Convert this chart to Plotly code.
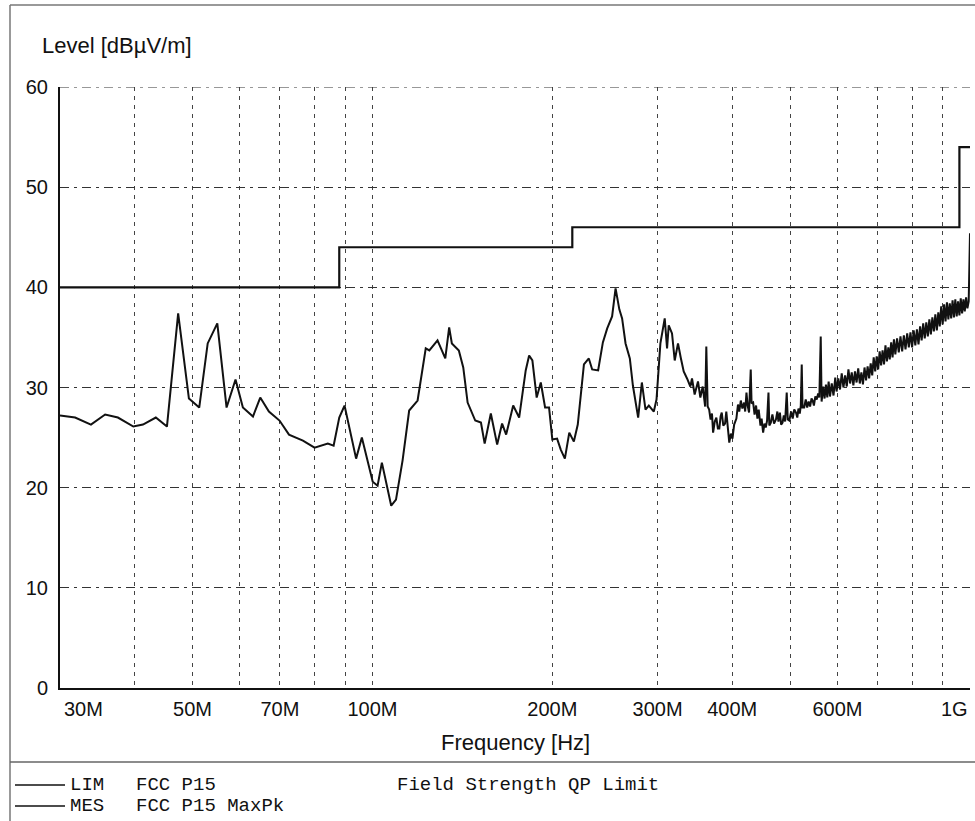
import plotly.graph_objects as go

# Max-peak scan, frequency in MHz and level in dBµV/m
mes_freq_mhz = [
    30.0, 31.8, 33.8, 35.7, 37.5, 39.8, 41.3, 43.4, 45.3, 47.3,
    49.3, 51.3, 53.0, 55.0, 57.0, 59.0, 60.7, 63.1, 64.9, 67.1,
    69.9, 72.5, 76.5, 80.0, 84.2, 86.1, 88.0, 89.8, 93.9, 96.0,
    100.1, 102.0, 103.7, 107.5, 109.5, 112.3, 115.2, 119.0, 122.8, 124.5,
    128.5, 132.4, 134.4, 135.8, 139.5, 141.9, 144.3, 148.6, 151.9, 154.1,
    157.8, 161.7, 164.8, 167.4, 172.0, 176.0, 180.5, 182.9, 185.2, 188.3,
    191.3, 194.5, 197.5, 200.0, 203.7, 206.6, 209.9, 213.5, 217.3, 220.6,
    225.9, 230.2, 233.2, 238.6, 243.0, 247.1, 251.8, 255.2, 258.9, 261.7,
    265.2, 269.6, 272.8, 278.4, 282.4, 286.4, 290.1, 295.7, 298.8, 303.3,
    308.4, 311.2, 313.2, 317.2, 320.5, 324.6, 328.0, 331.8, 336.1, 340.4,
    342.6, 346.1, 350.6, 353.8, 357.0, 360.4, 362.0, 363.9,
    366, 368, 370, 371.6, 374, 376.3, 378.5, 380.6, 382.5, 384.2,
    386.5, 389.1, 391, 393, 395.5, 398, 400.4, 403, 406.5, 409,
    411, 413.5, 416, 418.8, 420.5, 422.6, 424.5, 426.8, 429.6, 431,
    433.6, 436, 438.5, 440.8, 443, 446, 448, 450.6, 453, 455.2,
    457.5, 460, 461.5, 464.2, 467, 470, 473.4, 476, 478, 480.7,
    483, 485.6, 488, 490.5, 493.5, 495.5, 498.5, 502, 505, 508,
    511.4, 514, 516.3, 519, 521, 522.9, 524.5, 527.9, 531, 534,
    537, 540, 543, 545.4, 548, 551, 554, 557, 559.6, 562.6,
    564.5, 568, 571, 574, 577, 580, 583, 587, 591, 595,
    598, 602, 606, 610, 614, 618, 622, 626, 630, 634,
    638, 642, 646, 650, 654, 658, 662, 666, 670, 674,
    678, 682, 686, 690, 694, 698, 702, 706, 710, 714,
    718, 722, 726, 730, 734, 738, 742, 746, 750, 755,
    760, 765, 770, 775, 780, 785, 790, 795, 800, 805,
    810, 815, 820, 825, 830, 835, 840, 845, 850, 855,
    860, 865, 870, 875, 880, 885, 890, 895, 900, 905,
    910, 915, 920, 925, 930, 935, 940, 945, 950, 955,
    960, 965, 970, 975, 980, 985, 990, 995, 1000,
]
mes_level = [
    27.2, 27.0, 26.3, 27.3, 27.0, 26.1, 26.3, 27.0, 26.1, 37.4,
    28.9, 28.0, 34.4, 36.4, 28.0, 30.8, 28.0, 27.1, 29.0, 27.6,
    26.7, 25.3, 24.7, 24.0, 24.4, 24.2, 27.0, 28.2, 22.9, 25.0,
    20.6, 20.2, 22.5, 18.2, 18.8, 22.7, 27.7, 28.7, 33.9, 33.7,
    34.7, 32.9, 36.0, 34.4, 33.7, 32.0, 28.5, 26.7, 26.5, 24.4,
    27.4, 24.3, 26.4, 25.3, 28.2, 27.0, 31.7, 33.2, 32.7, 29.0,
    30.5, 28.0, 28.0, 24.8, 24.9, 23.8, 22.9, 25.5, 24.6, 26.3,
    32.3, 32.9, 31.8, 31.7, 34.5, 35.9, 37.1, 39.9, 37.8, 36.9,
    34.4, 32.9, 30.2, 27.0, 30.5, 27.8, 28.2, 27.6, 28.8, 34.4,
    36.9, 33.9, 36.2, 35.4, 32.7, 34.4, 33.0, 31.6, 30.9, 30.1,
    30.9, 29.3, 30.6, 29.0, 30.1, 28.1, 34.1, 28.1,
    27.8, 26.8, 27.4, 25.5, 26.6, 27.0, 25.9, 25.9, 27.1, 27.5,
    26.2, 26.4, 27.6, 26.0, 24.5, 25.4, 24.9, 26.3, 26.9, 28.3,
    27.6, 28.7, 27.9, 28.5, 27.6, 29.5, 28.2, 27.5, 31.8, 28.4,
    28.5, 27.3, 28.2, 26.9, 27.8, 26.2, 26.9, 25.5, 26.4, 26.0,
    26.7, 29.5, 26.2, 26.5, 27.3, 26.4, 26.8, 27.6, 26.6, 27.5,
    26.3, 26.5, 27.2, 26.6, 29.5, 26.8, 26.7, 27.6, 26.9, 27.8,
    27.5, 27.0, 27.9, 27.4, 28.2, 32.3, 28.0, 28.0, 28.8, 28.0,
    28.6, 28.1, 28.9, 28.7, 28.2, 29.1, 28.8, 29.4, 29.0, 35.1,
    28.6, 30.1, 28.9, 30.3, 29.0, 30.6, 29.1, 30.4, 29.2, 31.0,
    29.6, 30.9, 29.8, 31.4, 30.0, 31.2, 30.1, 31.8, 30.4, 31.5,
    30.2, 31.6, 30.5, 31.9, 30.4, 31.5, 30.3, 32.0, 30.7, 32.1,
    30.9, 32.4, 31.2, 33.0, 31.6, 33.1, 31.8, 33.6, 32.2, 33.7,
    32.3, 34.2, 32.6, 34.0, 32.8, 34.5, 33.0, 34.8, 33.3, 34.9,
    33.5, 35.1, 33.6, 35.2, 33.8, 35.4, 34.0, 35.5, 34.0, 35.7,
    34.2, 35.8, 34.3, 36.1, 34.7, 36.4, 34.9, 36.5, 35.1, 36.8,
    35.3, 37.0, 35.6, 37.3, 35.7, 37.5, 36.1, 38.1, 36.3, 38.3,
    36.6, 38.5, 36.8, 38.4, 36.9, 38.7, 37.0, 38.8, 37.1, 38.6,
    37.2, 38.9, 37.4, 38.8, 37.6, 39.0, 37.9, 38.6, 45.4,
]

# FCC Part 15 QP limit: band edges (MHz) and level for each band
lim_edges_mhz = [30, 88, 216, 960, 1000]
lim_level = [40, 44, 46, 54, 54]

y_ticks = [0, 10, 20, 30, 40, 50, 60]
x_grid_mhz = [30, 40, 50, 60, 70, 80, 90, 100, 200, 300, 400, 500,
              600, 700, 800, 900, 1000]
x_tick_labels = {50: "50M", 70: "70M", 100: "100M", 200: "200M",
                 300: "300M", 400: "400M", 600: "600M"}
x_edge_labels = [("30M", 0.0, "left", 2), ("1G", 1.0, "right", 0)]

legend_rows = [
    ("LIM", "FCC P15", "Field Strength QP Limit"),
    ("MES", "FCC P15 MaxPk", ""),
]

# page geometry (pixels)
FIG_W, FIG_H = 975, 821
M_L, M_R, M_T, M_B = 60, 5, 87, 133
PW = FIG_W - M_L - M_R
PH = FIG_H - M_T - M_B


def px(x):
    return (x - M_L) / PW


def py(y):
    return (FIG_H - M_B - y) / PH


SANS = "Liberation Sans, Arial, sans-serif"
MONO = "Courier New, Liberation Mono, monospace"
INK = "#111111"
H_DASH = "9px,5px,3px,5px"

fig = go.Figure()

fig.add_trace(go.Scatter(
    x=[f * 1e6 for f in lim_edges_mhz], y=lim_level,
    mode="lines", line=dict(color=INK, width=2.2, shape="hv"),
    name="LIM", hoverinfo="skip",
))
fig.add_trace(go.Scatter(
    x=[f * 1e6 for f in mes_freq_mhz], y=mes_level,
    mode="lines", line=dict(color=INK, width=2),
    name="MES",
))

fig.update_xaxes(
    type="log", range=[7.4771213, 9.0],
    tickvals=[f * 1e6 for f in x_grid_mhz],
    ticktext=[x_tick_labels.get(f, "") for f in x_grid_mhz],
    showgrid=True, gridcolor="#444444", gridwidth=1, griddash="4px,5px",
    showline=True, linecolor=INK, linewidth=2,
    ticks="", ticklabelstandoff=2,
    tickfont=dict(family=SANS, size=20, color=INK),
    zeroline=False,
)
fig.update_yaxes(
    range=[0, 60], tickvals=y_ticks,
    showgrid=True, gridcolor="#333333", gridwidth=1.2, griddash=H_DASH,
    showline=True, linecolor=INK, linewidth=2,
    ticks="", ticklabelstandoff=6,
    tickfont=dict(family=SANS, size=20, color=INK),
    zeroline=False,
)

annotations = [
    dict(text="Level [dBµV/m]", xref="paper", yref="paper",
         x=px(40), y=py(45), xanchor="left", yanchor="middle",
         showarrow=False, font=dict(family=SANS, size=22, color=INK)),
    dict(text="Frequency [Hz]", xref="paper", yref="paper",
         x=0.5, y=py(742), xanchor="center", yanchor="middle",
         showarrow=False, font=dict(family=SANS, size=22, color=INK)),
]
for label, xp, anchor, shift in x_edge_labels:
    annotations.append(dict(
        text=label, xref="paper", yref="paper", x=xp,
        y=py(709), xanchor=anchor, yanchor="middle", showarrow=False,
        xshift=shift, font=dict(family=SANS, size=20, color=INK),
    ))

shapes = [
    # dashed grid line along the top of the plot (60 dB)
    dict(type="line", xref="paper", yref="y", x0=0, x1=1,
         y0=y_ticks[-1], y1=y_ticks[-1],
         line=dict(color="#333333", width=1.2, dash=H_DASH)),
    # page frame and legend separator
    dict(type="line", xref="paper", yref="paper", x0=px(10), x1=px(975),
         y0=py(5), y1=py(5), line=dict(color="#777777", width=1.5)),
    dict(type="line", xref="paper", yref="paper", x0=px(10), x1=px(10),
         y0=py(5), y1=py(821), line=dict(color="#777777", width=1.5)),
    dict(type="line", xref="paper", yref="paper", x0=px(10), x1=px(975),
         y0=py(762), y1=py(762), line=dict(color="#666666", width=1.5)),
]

for i, (tag, name, desc) in enumerate(legend_rows):
    row_y = 785 + 21 * i
    shapes.append(dict(type="line", xref="paper", yref="paper",
                       x0=px(15), x1=px(65), y0=py(row_y), y1=py(row_y),
                       line=dict(color=INK, width=1.5)))
    for text, left in ((tag, 68), (name, 134), (desc, 395)):
        if text:
            annotations.append(dict(
                text=text, xref="paper", yref="paper", x=px(left),
                y=py(row_y), xanchor="left", yanchor="middle",
                showarrow=False,
                font=dict(family=MONO, size=19, color=INK),
            ))

fig.update_layout(
    width=FIG_W, height=FIG_H,
    margin=dict(l=M_L, r=M_R, t=M_T, b=M_B, pad=0),
    paper_bgcolor="white", plot_bgcolor="white",
    showlegend=False,
    annotations=annotations, shapes=shapes,
)

fig.write_html("out.html")
